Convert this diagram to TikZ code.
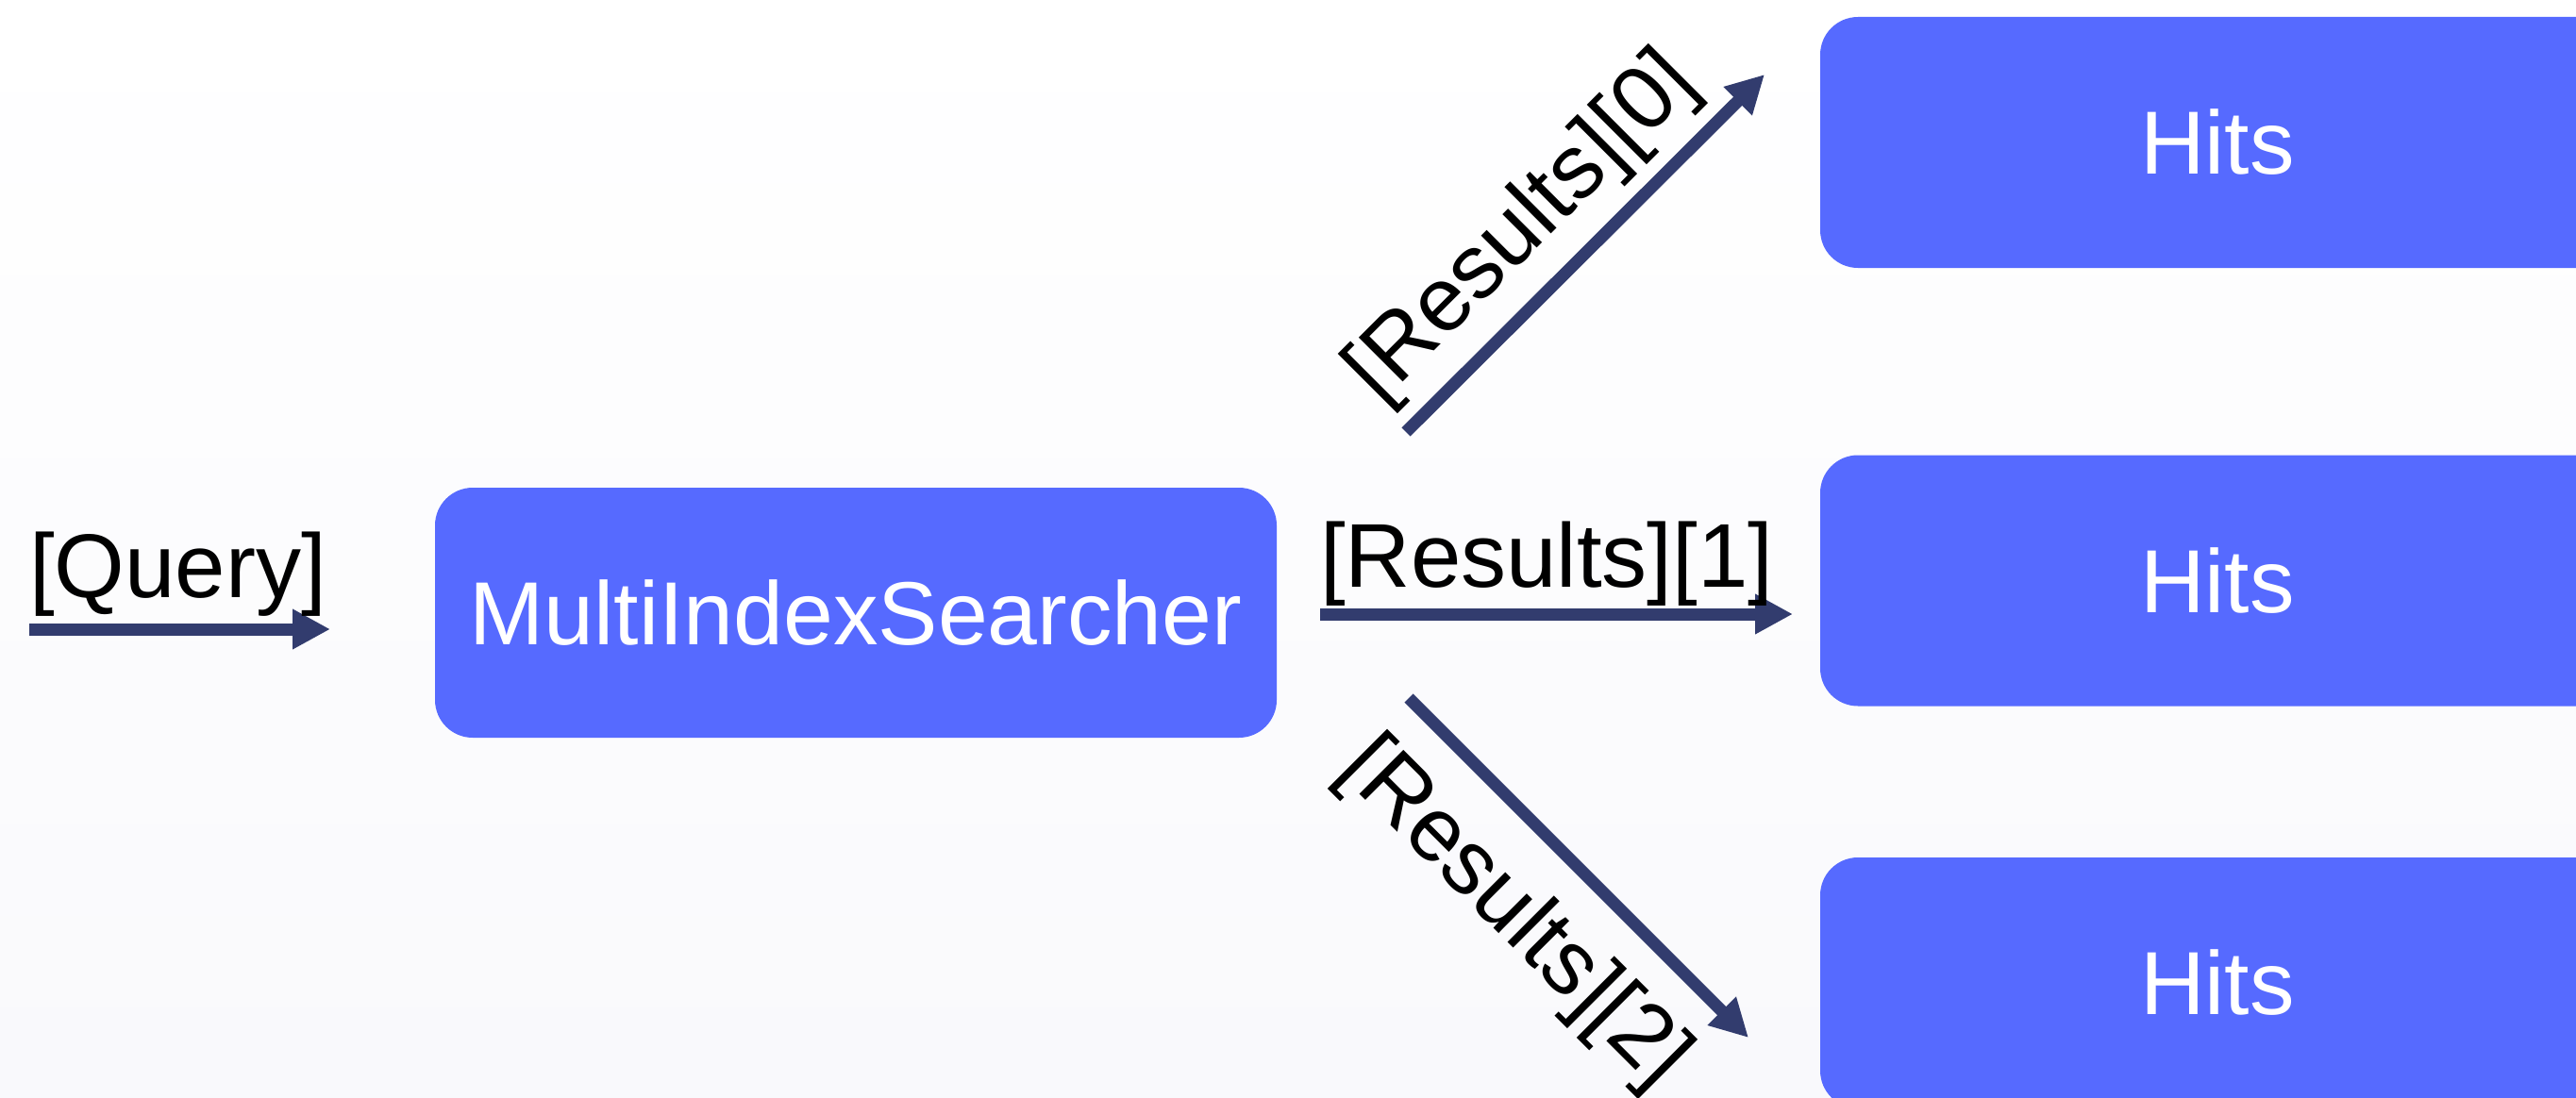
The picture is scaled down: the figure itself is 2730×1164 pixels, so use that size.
\documentclass[tikz,border=0pt]{standalone}
\usepackage{fontspec}
\setmainfont{Liberation Sans}
\usetikzlibrary{arrows.meta}
\definecolor{boxblue}{RGB}{86,106,255}
\definecolor{arrownavy}{RGB}{50,60,110}
\definecolor{bgbottom}{RGB}{249,249,252}
\begin{document}
\begin{tikzpicture}[x=1pt,y=-1pt,
  box/.style={fill=boxblue, rounded corners=40pt, text=white, inner sep=0pt,
    font=\fontsize{95}{100}\selectfont},
  lbl/.style={inner sep=0pt, anchor=base west, text=black,
    font=\fontsize{96}{100}\selectfont},
  flow/.style={draw=arrownavy, line width=13pt, -{Triangle[length=40pt,width=40pt]}}
]
\useasboundingbox (0,0) rectangle (2730,1164);
\clip (0,0) rectangle (2730,1164);
\shade[top color=white, bottom color=bgbottom] (0,0) rectangle (2730,1164);

% nodes
\node[box, minimum width=892pt, minimum height=265pt] (mis) at (907,649.5) {MultiIndexSearcher};
\node[box, minimum width=842pt, minimum height=266pt] (hits0) at (2350,151) {Hits};
\node[box, minimum width=842pt, minimum height=266pt] (hits1) at (2350,615.5) {Hits};
\node[box, minimum width=842pt, minimum height=266pt] (hits2) at (2350,1042) {Hits};

% connector end points
\coordinate (q0) at (31,667);
\coordinate (q1) at (350,667);
\coordinate (r0s) at (1490,458);
\coordinate (r0e) at (1870,79);
\coordinate (r1s) at (1399,651);
\coordinate (r1e) at (1900,651);
\coordinate (r2s) at (1493,740);
\coordinate (r2e) at (1853,1100);

% connectors
\draw[flow] (q0) -- (q1);
\draw[flow] (r0s) -- (r0e);
\draw[flow] (r1s) -- (r1e);
\draw[flow] (r2s) -- (r2e);

% labels
\node[lbl] (lq) at (31,633) {[Query]};
\node[lbl, rotate=45] (l0) at (1462,430) {[Results][0]};
\node[lbl] (l1) at (1399,622) {[Results][1]};
\node[lbl, rotate=-45] (l2) at (1416,817) {[Results][2]};
\end{tikzpicture}
\end{document}
